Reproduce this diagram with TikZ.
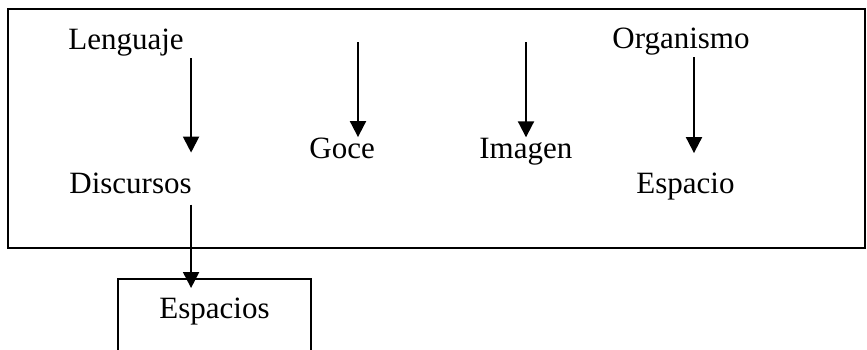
\documentclass[tikz,border=0pt]{standalone}
\usepackage{fontspec}
\setmainfont{Liberation Serif}
\usetikzlibrary{arrows.meta,positioning}

\begin{document}
\begin{tikzpicture}[
x=0.5pt, y=-0.5pt,
word/.style={inner sep=0pt, anchor=base west, font=\fontsize{15.5}{18}\selectfont},
boxnode/.style={draw, line width=1pt, inner sep=0pt, anchor=north, minimum width=96.5pt,
  text height=19.5pt, text depth=40pt, font=\fontsize{15.5}{18}\selectfont},
arr/.style={line width=1pt, arrows={-{Triangle[length=8pt,width=8pt]}}}]
\useasboundingbox (0,0) rectangle (867,349);
% Frame
\draw[line width=1pt] (8,9) rectangle (865,248);
% Nodes
\node[word] (lenguaje) at (68,49) {Lenguaje};
\node[word] (organismo) at (612,48) {Organismo};
\node[word] (goce) at (309,158) {Goce};
\node[word] (imagen) at (479,158) {Imagen};
\node[word] (discursos) at (69,193) {Discursos};
\node[word] (espacio) at (636,193) {Espacio};
\node[boxnode] (espacios) at (214.5,278) {Espacios};
\coordinate (goce top) at (358,42);
\coordinate (imagen top) at (526,42);
% Lines
\draw[arr, shorten <=1pt, shorten >=9.75pt] ([xshift=-0.5pt]discursos.north east |- lenguaje.south) -- ([xshift=-0.5pt]discursos.north east);
\draw[arr] (goce top) -- (goce top |- goce.north);
\draw[arr] (imagen top) -- (imagen top |- imagen.north);
\draw[arr, shorten <=1pt, shorten >=9.5pt] ([xshift=6.5pt]organismo.south) -- ([xshift=6.5pt]organismo.south |- espacio.north);
\draw[arr, shorten <=5.5pt, shorten >=-5pt] ([xshift=-0.5pt]discursos.south east) -- ([xshift=-0.5pt]discursos.south east |- espacios.north);
\end{tikzpicture}
\end{document}
